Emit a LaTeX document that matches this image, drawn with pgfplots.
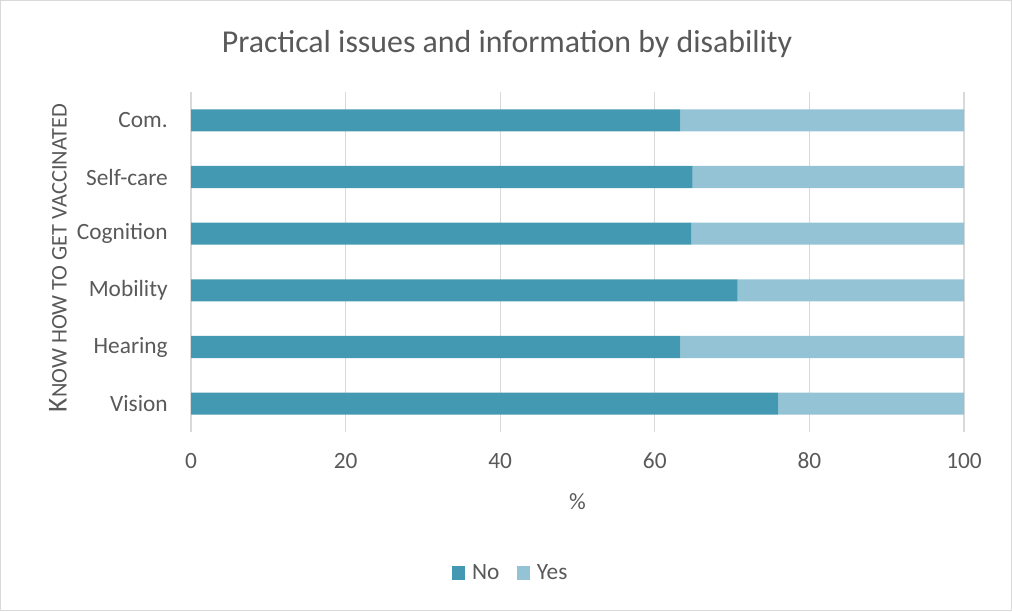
\documentclass[border=0pt]{standalone}
\usepackage{pgfplots}
\pgfplotsset{compat=1.18}
\usepackage{fontspec}
\setmainfont{Carlito}
\definecolor{cno}{HTML}{4399B1}
\definecolor{cyes}{HTML}{93C3D5}
\definecolor{txt}{HTML}{595959}
\definecolor{grd}{HTML}{D9D9D9}
\begin{document}
\begin{tikzpicture}
\draw[grd, line width=0.75pt] (0.375pt,0.375pt) rectangle (758.625pt,457.875pt);
\begin{axis}[
  at={(143.25pt,134.25pt)}, anchor=south west, scale only axis,
  width=579.75pt, height=255pt,
  xbar stacked, bar width=0.39,
  xmin=0, xmax=100, ymin=-0.5, ymax=5.5,
  xtick={0,20,...,100}, ytick={0,...,5},
  yticklabels={Vision,Hearing,Mobility,Cognition,Self-care,Com.},
  axis line style={draw=none},
  major tick length=0pt,
  xmajorgrids, grid style={draw=grd, line width=0.9pt},
  ticklabel style={font=\fontsize{17.5}{20}\selectfont, text=txt},
  /pgf/number format/assume math mode=true,
  xticklabel style={inner sep=0pt, yshift=-15.5pt},
  yticklabel style={inner sep=0pt, xshift=-17.25pt},
  legend style={draw=none, fill=none, at={(0.414,-0.4147)}, anchor=center,
    legend columns=-1, font=\fontsize{17.5}{20}\selectfont, text=txt,
    /tikz/every even column/.append style={column sep=11pt},
    /tikz/every odd column/.append style={column sep=3pt}},
  legend image code/.code={\fill[#1] (0pt,-5.06pt) rectangle (10.1pt,5.06pt);},
]
\addplot[fill=cno, draw=none] coordinates {(76.0,0) (63.3,1) (70.7,2) (64.7,3) (64.9,4) (63.3,5)};
\addplot[fill=cyes, draw=none] coordinates {(24.0,0) (36.7,1) (29.3,2) (35.3,3) (35.1,4) (36.7,5)};
\legend{No,Yes}
\end{axis}
\node[anchor=base, text=txt, font=\fontsize{23.9}{28}\selectfont] at (380.25pt,418.5pt) {Practical issues and information by disability};
\node[anchor=base, text=txt, font=\fontsize{17.5}{20}\selectfont] at (433.1pt,76.5pt) {\%};
\node[rotate=90, text=txt, inner sep=0pt] at (43.5pt,264.75pt) {\fontsize{20.5}{22}\selectfont K\fontsize{16.8}{18}\selectfont NOW HOW TO GET VACCINATED};
\end{tikzpicture}
\end{document}
